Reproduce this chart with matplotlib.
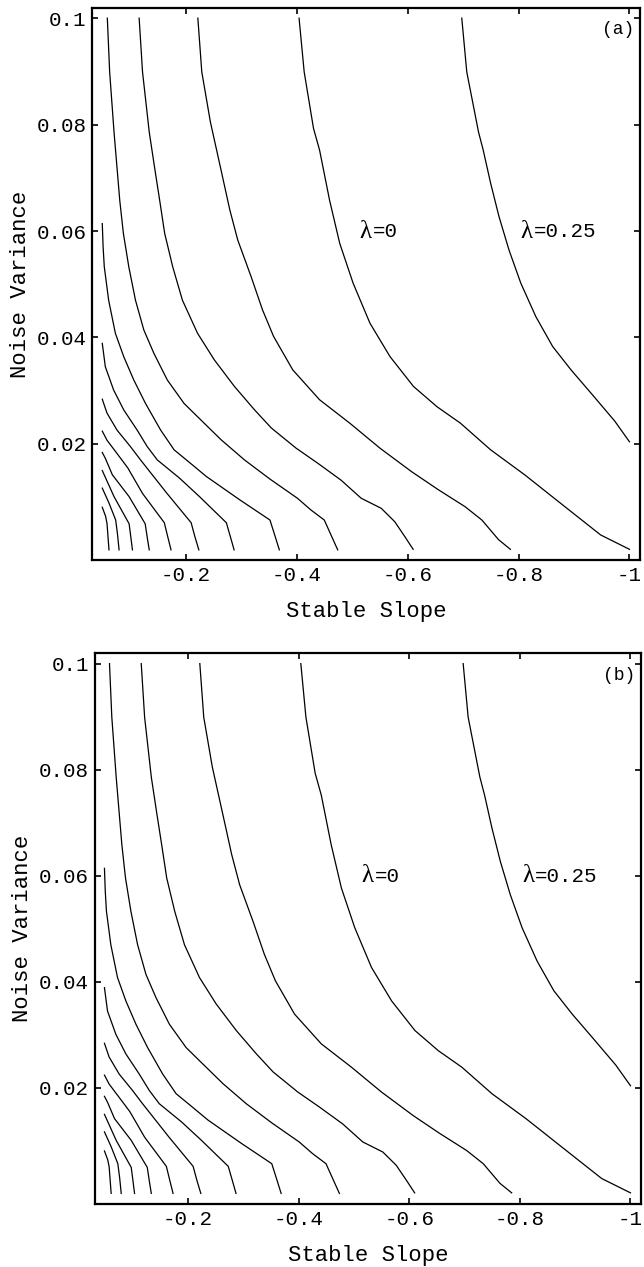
import matplotlib
matplotlib.use("Agg")
import matplotlib.pyplot as plt
from matplotlib.ticker import FixedLocator, FixedFormatter

# ---- data: contour lines (|stable slope|, noise variance) ----
c1_x = [0.049, 0.055, 0.0575, 0.0593, 0.0611]
c1_y = [0.0081, 0.0064, 0.0051, 0.0026, 0.0001]
c2_x = [0.049, 0.0611, 0.0732, 0.0765, 0.0793]
c2_y = [0.0117, 0.0089, 0.0057, 0.0030, 0.0001]
c3_x = [0.049, 0.0702, 0.0974, 0.1005, 0.1034]
c3_y = [0.0150, 0.0101, 0.0050, 0.0025, 0.0001]
c4_x = [0.049, 0.0545, 0.0672, 0.0974, 0.1264, 0.1300, 0.1337]
c4_y = [0.0184, 0.0173, 0.0142, 0.0101, 0.0050, 0.0025, 0.0001]
c5_x = [0.049, 0.0575, 0.0756, 0.095, 0.1216, 0.1609, 0.1670, 0.1730]
c5_y = [0.0224, 0.0207, 0.0182, 0.0155, 0.0107, 0.0052, 0.0026, 0.0001]
c6_x = [0.049, 0.0575, 0.0756, 0.0998, 0.118, 0.165, 0.2093, 0.2160, 0.2232]
c6_y = [0.0284, 0.0258, 0.0226, 0.0195, 0.0170, 0.0108, 0.0052, 0.0026, 0.0001]
c7_x = [0.049, 0.0545, 0.0696, 0.0877, 0.1119, 0.1301, 0.1482, 0.1881, 0.2244, 0.2728, 0.2800, 0.2868]
c7_y = [0.0389, 0.0345, 0.0301, 0.0264, 0.0226, 0.0195, 0.0170, 0.0136, 0.0101, 0.0052, 0.0026, 0.0001]
c8_x = [0.049, 0.0505, 0.0526, 0.0605, 0.0726, 0.0877, 0.1059, 0.127, 0.1543, 0.1785, 0.2100,
        0.2365, 0.297, 0.3515, 0.3600, 0.3684]
c8_y = [0.0614, 0.0570, 0.0533, 0.0470, 0.0408, 0.0364, 0.0320, 0.0276, 0.0226, 0.0189, 0.0162,
        0.0139, 0.0095, 0.0057, 0.0029, 0.0001]
c9_x = [0.0581, 0.0623, 0.0702, 0.0805, 0.0870, 0.0968, 0.1089, 0.124, 0.1422, 0.1664, 0.1966,
        0.2269, 0.2632, 0.3055, 0.3515, 0.401, 0.4253, 0.4495, 0.4616, 0.4737]
c9_y = [0.1000, 0.0899, 0.0786, 0.0658, 0.0596, 0.0533, 0.0470, 0.0414, 0.0370, 0.0320, 0.0276,
        0.0245, 0.0208, 0.0170, 0.0134, 0.0098, 0.0076, 0.0057, 0.0029, 0.0001]
c10_x = [0.1155, 0.1216, 0.1337, 0.1440, 0.1525, 0.1615, 0.1760, 0.1936, 0.2208, 0.2511, 0.2874,
         0.3237, 0.3539, 0.3987, 0.4374, 0.4797, 0.516, 0.5523, 0.5765, 0.5947, 0.6098]
c10_y = [0.1000, 0.0899, 0.0786, 0.0715, 0.0658, 0.0596, 0.0533, 0.0470, 0.0408, 0.0358, 0.0308,
         0.0264, 0.0230, 0.0192, 0.0164, 0.0132, 0.0098, 0.0079, 0.0054, 0.0026, 0.0002]
c11_x = [0.2214, 0.2285, 0.2440, 0.2640, 0.2790, 0.2934, 0.3176, 0.3380, 0.3580, 0.3927, 0.441,
         0.4955, 0.55, 0.6068, 0.6552, 0.7036, 0.7338, 0.764, 0.7852]
c11_y = [0.1000, 0.0899, 0.0805, 0.0711, 0.0640, 0.0583, 0.0514, 0.0452, 0.0402, 0.0339, 0.0283,
         0.0239, 0.0192, 0.0148, 0.0114, 0.0082, 0.0057, 0.0020, 0.0002]
c12_x = [0.404, 0.4132, 0.4300, 0.441, 0.459, 0.4773, 0.5015, 0.5318, 0.5681, 0.6104, 0.6527,
         0.6951, 0.7495, 0.811, 0.880, 0.948, 1.000]
c12_y = [0.1000, 0.0899, 0.0793, 0.0752, 0.0658, 0.0577, 0.0502, 0.0427, 0.0364, 0.0308, 0.0270,
         0.0239, 0.0189, 0.0142, 0.0085, 0.0029, 0.0002]
c13_x = [0.6975, 0.7065, 0.7277, 0.7362, 0.7495, 0.7647, 0.7828, 0.804, 0.8312, 0.8615, 0.8947,
         0.931, 0.9734, 1.000]
c13_y = [0.1000, 0.0899, 0.0786, 0.0752, 0.0690, 0.0627, 0.0564, 0.0502, 0.0439, 0.0383, 0.0339,
         0.0295, 0.0243, 0.0204]

contours_x = [c1_x, c2_x, c3_x, c4_x, c5_x, c6_x, c7_x, c8_x, c9_x, c10_x, c11_x, c12_x, c13_x]
contours_y = [c1_y, c2_y, c3_y, c4_y, c5_y, c6_y, c7_y, c8_y, c9_y, c10_y, c11_y, c12_y, c13_y]

x_ticks = [-0.2, -0.4, -0.6, -0.8, -1.0]
x_tick_labels = ["-0.2", "-0.4", "-0.6", "-0.8", "-1"]
y_ticks = [0.02, 0.04, 0.06, 0.08, 0.1]
y_tick_labels = ["0.02", "0.04", "0.06", "0.08", "0.1"]

labels_text = ["=0", "=0.25"]
labels_pos = [(-0.5136, 0.0599), (-0.804, 0.0599)]
panel_tags = ["(a)", "(b)"]

MONO = ["Liberation Mono", "DejaVu Sans Mono"]
SERIF = ["Liberation Serif", "DejaVu Serif"]

fig = plt.figure(figsize=(6.44, 12.67), dpi=100)

axes_rects = [
    [92.3 / 644, 1 - 560.5 / 1267, (640 - 92.3) / 644, (560.5 - 7.5) / 1267],
    [94.5 / 644, 1 - 1204 / 1267, (641 - 94.5) / 644, (1204 - 653) / 1267],
]

for rect, tag in zip(axes_rects, panel_tags):
    ax = fig.add_axes(rect)
    for cx, cy in zip(contours_x, contours_y):
        ax.plot([-v for v in cx], cy, color="black", lw=0.9)
    ax.set_xlim(-0.031, -1.019)
    ax.set_ylim(-0.0019, 0.1020)
    ax.xaxis.set_major_locator(FixedLocator(x_ticks))
    ax.xaxis.set_major_formatter(FixedFormatter(x_tick_labels))
    ax.yaxis.set_major_locator(FixedLocator(y_ticks))
    ax.yaxis.set_major_formatter(FixedFormatter(y_tick_labels))
    ax.tick_params(direction="in", length=4, width=1.2, top=True, right=True,
                   labelsize=15, pad=4)
    for lab in ax.get_xticklabels() + ax.get_yticklabels():
        lab.set_family(MONO)
    for sp in ax.spines.values():
        sp.set_linewidth(1.6)
    ax.set_xlabel("Stable Slope", family=MONO, fontsize=16)
    ax.set_ylabel("Noise Variance", family=MONO, fontsize=16)
    ax.xaxis.label.set_va("center")
    ax.yaxis.label.set_va("center")
    ax.xaxis.set_label_coords(0.5, -0.093)
    ax.yaxis.set_label_coords(-0.131, 0.5)
    for (lx, ly), txt in zip(labels_pos, labels_text):
        ax.text(lx, ly, "\u03bb", family=SERIF, fontsize=18,
                ha="left", va="center")
        ax.annotate(txt, xy=(lx, ly), xytext=(9.5, 0), textcoords="offset points",
                    family=MONO, fontsize=15, ha="left", va="center")
    ax.text(0.99, 0.96, tag, transform=ax.transAxes, family=MONO, fontsize=13,
            ha="right", va="center")

fig.savefig("out.png", dpi=100)
